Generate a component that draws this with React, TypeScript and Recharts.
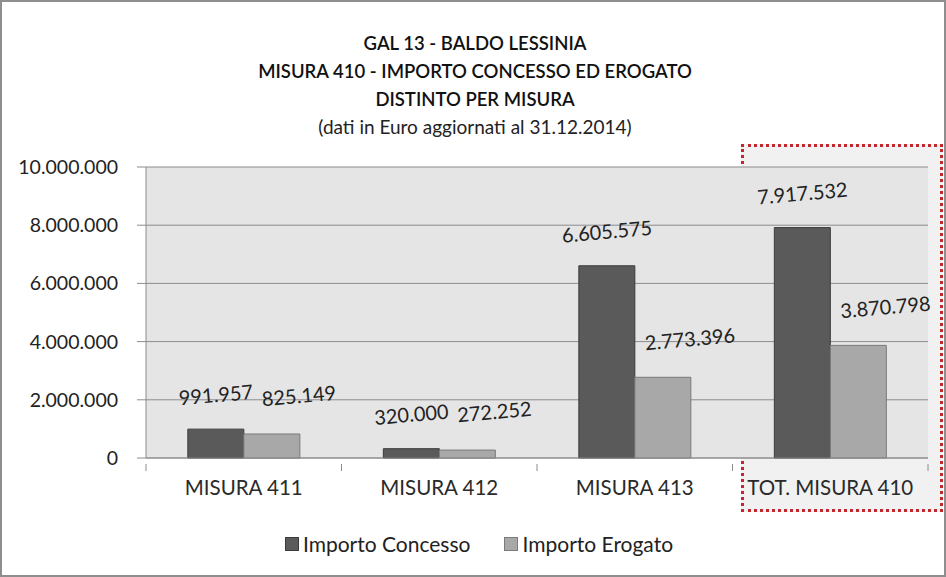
import React from "react";
import {
  BarChart,
  Bar,
  XAxis,
  YAxis,
  CartesianGrid,
  Legend,
  LabelList,
} from "recharts";

// Values (Euro, 31.12.2014)
const categories = ["MISURA 411", "MISURA 412", "MISURA 413", "TOT. MISURA 410"];
const concesso = [991957, 320000, 6605575, 7917532];
const erogato = [825149, 272252, 2773396, 3870798];
const yTicks = [0, 2000000, 4000000, 6000000, 8000000, 10000000];
const titleLines = [
  "GAL 13 - BALDO LESSINIA",
  "MISURA 410 - IMPORTO CONCESSO ED EROGATO",
  "DISTINTO PER MISURA",
];
const subtitle = "(dati in Euro aggiornati al 31.12.2014)";

const data = categories.map((name, i) => ({
  name,
  concesso: concesso[i],
  erogato: erogato[i],
}));

const FONT = "Lato, 'Open Sans', sans-serif";
const DARK = "#5a5a5a";
const LIGHT = "#a8a8a8";
const AXIS = "#8c8c8c";

const fmt = (n: number) =>
  String(Math.round(n)).replace(/\B(?=(\d{3})+(?!\d))/g, ".");

function tiltedLabel(dx: number, rise: number) {
  return (props: any) => {
    const { x, y, width, value } = props;
    const cx = Number(x) + Number(width) / 2 + dx;
    const cy = Number(y) - rise;
    return (
      <text
        x={cx}
        y={cy}
        textAnchor="middle"
        dominantBaseline="central"
        fontSize={20}
        fontFamily={FONT}
        fill="#222"
        transform={`rotate(-5 ${cx} ${cy})`}
      >
        {fmt(value)}
      </text>
    );
  };
}

// category label plus Excel-style tick marks between the categories
function CategoryTick(props: any) {
  const { x, y, payload, index } = props;
  const half = Number(payload?.offset) || 0;
  const top = y - 16; // tickMargin brings y below the axis line
  return (
    <g>
      {half > 0 && (
        <line x1={x - half} x2={x - half} y1={top} y2={top + 7} stroke={AXIS} />
      )}
      {half > 0 && index === categories.length - 1 && (
        <line x1={x + half} x2={x + half} y1={top} y2={top + 7} stroke={AXIS} />
      )}
      <text
        x={x}
        y={y}
        dy="0.71em"
        textAnchor="middle"
        fontSize={20.5}
        fontFamily={FONT}
        fill="#2a2a2a"
      >
        {payload.value}
      </text>
    </g>
  );
}

function LegendContent() {
  const items = [
    { label: "Importo Concesso", color: DARK, border: "#3c3c3c" },
    { label: "Importo Erogato", color: LIGHT, border: "#7a7a7a" },
  ];
  return (
    <div
      style={{
        display: "flex",
        justifyContent: "center",
        gap: 34,
        fontFamily: FONT,
        fontSize: 21,
        color: "#222",
        paddingLeft: 30,
      }}
    >
      {items.map((it) => (
        <span key={it.label} style={{ display: "flex", alignItems: "center" }}>
          <span
            style={{
              width: 12,
              height: 12,
              background: it.color,
              border: `1px solid ${it.border}`,
              marginRight: 4,
              display: "inline-block",
            }}
          />
          {it.label}
        </span>
      ))}
    </div>
  );
}

export default function App() {
  return (
    <div
      style={{
        position: "absolute",
        left: 0,
        top: 0,
        width: 946,
        height: 577,
        background: "#fff",
        boxSizing: "border-box",
        border: "2px solid #8e8e8e",
        overflow: "hidden",
      }}
    >
      {/* highlight box around the total */}
      <div
        style={{
          position: "absolute",
          left: 739,
          top: 142,
          width: 202,
          height: 368,
          boxSizing: "border-box",
          border: "3px dotted #c0282d",
          background: "#f1f1f1",
        }}
      />
      <div
        style={{
          position: "absolute",
          left: 0,
          top: 27,
          width: 946,
          textAlign: "center",
          fontFamily: FONT,
          color: "#111",
        }}
      >
        <div style={{ fontSize: 18.5, lineHeight: "28px", fontWeight: 600 }}>{titleLines[0]}</div>
        <div style={{ fontSize: 18.5, lineHeight: "28px", fontWeight: 600 }}>{titleLines[1]}</div>
        <div style={{ fontSize: 18.5, lineHeight: "28px", fontWeight: 600 }}>{titleLines[2]}</div>
        <div style={{ fontSize: 19, lineHeight: "28px", color: "#222" }}>{subtitle}</div>
      </div>
      <div style={{ position: "absolute", left: -2, top: -2 }}>
        <BarChart
          width={946}
          height={577}
          data={data}
          margin={{ top: 167, right: 18, left: 0, bottom: 10 }}
          barCategoryGap="21.4%"
          barGap={0}
        >
          <CartesianGrid
            vertical={false}
            fill="#e5e5e5"
            stroke={AXIS}
            strokeWidth={1}
            fillOpacity={1}
          />
          <XAxis
            dataKey="name"
            height={73}
            tickLine={false}
            axisLine={{ stroke: AXIS }}
            tick={<CategoryTick />}
            tickMargin={16}
            interval={0}
          />
          <YAxis
            domain={[0, 10000000]}
            ticks={yTicks}
            width={146}
            tickSize={9}
            tickMargin={19}
            tickFormatter={fmt}
            axisLine={{ stroke: AXIS }}
            tickLine={{ stroke: AXIS }}
            tick={{ fontSize: 19.5, fill: "#222", fontFamily: FONT }}
          />
          <Legend verticalAlign="bottom" height={36} content={<LegendContent />} />
          <Bar
            dataKey="concesso"
            name="Importo Concesso"
            fill={DARK}
            stroke="#3c3c3c"
            strokeWidth={1}
            isAnimationActive={false}
          >
            <LabelList dataKey="concesso" content={tiltedLabel(0, 35)} />
          </Bar>
          <Bar
            dataKey="erogato"
            name="Importo Erogato"
            fill={LIGHT}
            stroke="#7a7a7a"
            strokeWidth={1}
            isAnimationActive={false}
          >
            <LabelList dataKey="erogato" content={tiltedLabel(27, 39)} />
          </Bar>
        </BarChart>
      </div>
    </div>
  );
}
